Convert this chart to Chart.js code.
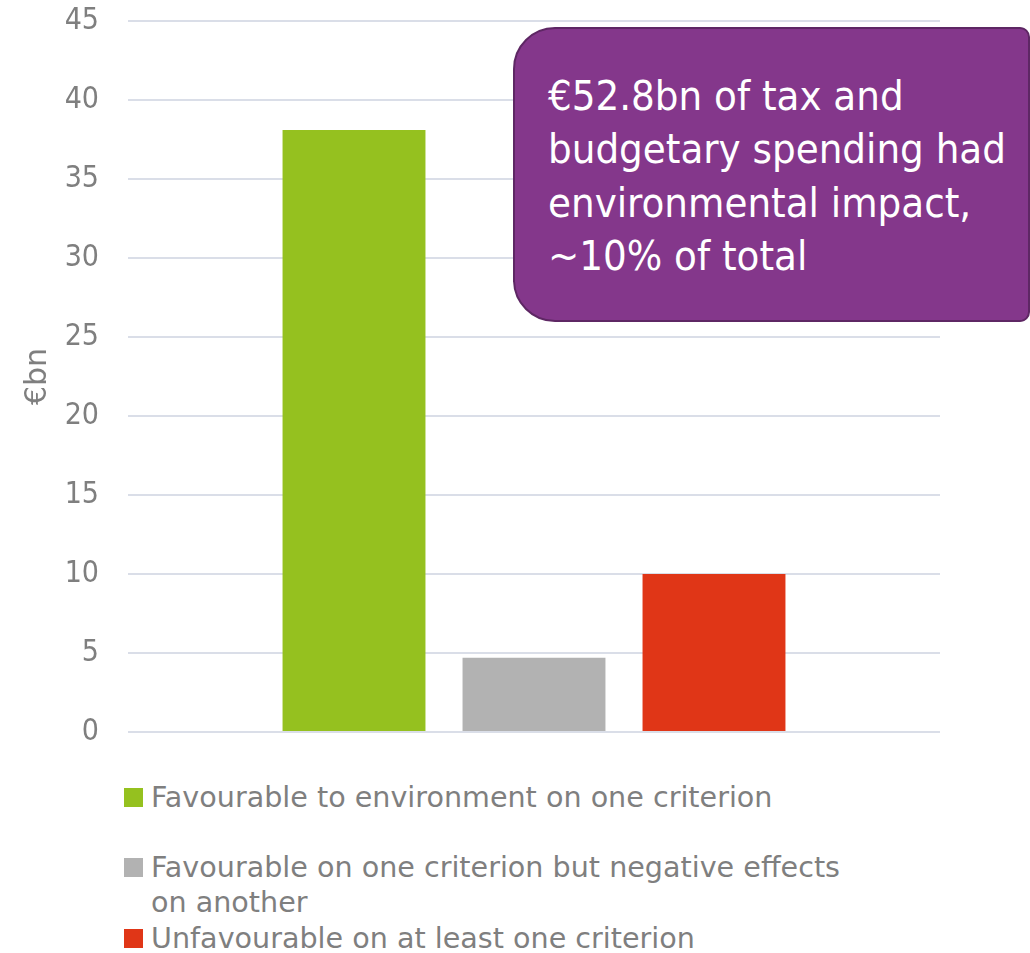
<!DOCTYPE html>
<html>
<head>
<meta charset="utf-8">
<script src="https://cdn.jsdelivr.net/npm/chart.js@4"></script>
<style>
  html, body { margin: 0; padding: 0; background: #ffffff; }
  body { width: 1030px; height: 953px; position: relative; overflow: hidden;
         font-family: "DejaVu Sans", sans-serif; }
  #wrap { position: absolute; left: 0; top: 0; width: 1030px; height: 760px; }
  #note {
    position: absolute; left: 513px; top: 27px; width: 517px; height: 295px;
    box-sizing: border-box; background: #84378b; border: 2px solid #5e2764;
    border-radius: 42px 10px 10px 42px; color: #ffffff;
    font-family: "DejaVu Sans Condensed", "DejaVu Sans", sans-serif;
    font-size: 41.5px; line-height: 53.3px;
    padding: 40px 0 0 33px; white-space: nowrap;
  }
  #legend { position: absolute; left: 124px; top: 780px; color: #7f7f7f; font-size: 28.6px; }
  .item { position: relative; padding-left: 27px; line-height: 35px; white-space: nowrap; }
  .swatch { position: absolute; left: 0; top: 8px; width: 19px; height: 19px; }
</style>
</head>
<body>
<div id="wrap"><canvas id="chart" width="1030" height="760"></canvas></div>
<div id="note">€52.8bn of tax and<br>budgetary spending had<br>environmental impact,<br>~10% of total</div>
<div id="legend"></div>
<script>
// Environmental classification of tax and budgetary spending, €bn
const categories = [""];
const seriesNames = [
  ["Favourable to environment on one criterion"],
  ["Favourable on one criterion but negative effects", "on another"],
  ["Unfavourable on at least one criterion"]
];
const favourable = [38.1];
const mixed = [4.7];
const unfavourable = [10.0];
const seriesColors = ["#95c11f", "#b2b2b2", "#e03617"];
const yTicks = [0, 5, 10, 15, 20, 25, 30, 35, 40, 45];

const values = [favourable, mixed, unfavourable];
const fontFamily = '"DejaVu Sans", sans-serif';
const tickFamily = '"DejaVu Sans Condensed", "DejaVu Sans", sans-serif';

const chart = new Chart(document.getElementById('chart'), {
  type: 'bar',
  data: {
    labels: categories,
    datasets: values.map((v, i) => ({
      label: seriesNames[i].join(' '),
      data: v,
      backgroundColor: seriesColors[i],
      borderWidth: 0,
      categoryPercentage: 0.665,
      barPercentage: 0.794
    }))
  },
  options: {
    responsive: false,
    animation: false,
    layout: { padding: { left: 0, right: 90, top: 21, bottom: 28 } },
    plugins: { legend: { display: false }, tooltip: { enabled: false } },
    scales: {
      x: { display: false },
      y: {
        min: 0, max: 45,
        afterBuildTicks: s => { s.ticks = yTicks.map(v => ({ value: v })); },
        afterFit: s => { s.width = 128; s.paddingTop = 0; s.paddingBottom = 0; },
        border: { display: false },
        grid: { color: '#dadee8', lineWidth: 2, drawTicks: false },
        ticks: { color: '#7f7f7f', padding: 29, font: { family: tickFamily, size: 30 } },
        title: {
          display: true, text: '€bn', color: '#7f7f7f',
          padding: { top: 20, bottom: 0 },
          font: { family: fontFamily, size: 30 }
        }
      }
    }
  }
});

// Legend built from the datasets, one entry per series
const legend = document.getElementById('legend');
const gaps = [0, 35, 1];
chart.data.datasets.forEach((ds, i) => {
  const item = document.createElement('div');
  item.className = 'item';
  item.style.marginTop = gaps[i] + 'px';
  const sw = document.createElement('span');
  sw.className = 'swatch';
  sw.style.background = ds.backgroundColor;
  item.appendChild(sw);
  seriesNames[i].forEach((line, k) => {
    if (k) item.appendChild(document.createElement('br'));
    item.appendChild(document.createTextNode(line));
  });
  legend.appendChild(item);
});
</script>
</body>
</html>
